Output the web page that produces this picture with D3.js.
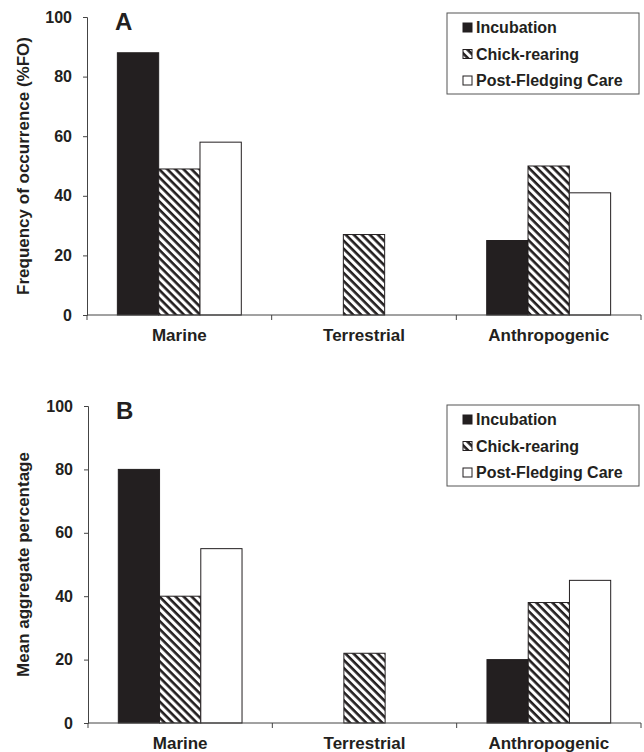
<!DOCTYPE html>
<html>
<head>
<meta charset="utf-8">
<script src="https://cdn.jsdelivr.net/npm/d3@7"></script>
<style>
    body { margin: 0; background: #fff; }
    text { font-family: "Liberation Sans", Arial, sans-serif; font-weight: bold; fill: #231f20; }
</style>
</head>
<body>
<div id="chart"></div>
<script>
const categories = ["Marine", "Terrestrial", "Anthropogenic"];
const stages = ["Incubation", "Chick-rearing", "Post-Fledging Care"];
const yTicks = [0, 20, 40, 60, 80, 100];

// values per stage, in category order
const freqIncubation = [88, 0, 25];
const freqChick = [49, 27, 50];
const freqPost = [58, 0, 41];

const meanIncubation = [80, 0, 20];
const meanChick = [40, 22, 38];
const meanPost = [55, 0, 45];

const width = 644, height = 752;
const ink = "#231f20";

const svg = d3.select("#chart").append("svg")
    .attr("width", width)
    .attr("height", height);

// diagonal hatch for chick-rearing
svg.append("defs").append("pattern")
    .attr("id", "hatch")
    .attr("patternUnits", "userSpaceOnUse")
    .attr("width", 5.7)
    .attr("height", 5.7)
    .attr("patternTransform", "rotate(45)")
    .call(p => {
        p.append("rect").attr("width", 5.7).attr("height", 5.7).attr("fill", "#fff");
        p.append("rect").attr("width", 5.7).attr("height", 2.6).attr("fill", ink);
    });

const fills = ["#231f20", "url(#hatch)", "#fff"];

const panels = [
    { letter: "A", title: "Frequency of occurrence (%FO)", series: [freqIncubation, freqChick, freqPost],
      left: 87, right: 641, top: 17, bottom: 315, legendTop: 13 },
    { letter: "B", title: "Mean aggregate percentage", series: [meanIncubation, meanChick, meanPost],
      left: 88, right: 641, top: 406, bottom: 723, legendTop: 405 }
];

panels.forEach(panel => drawPanel(panel));

function drawPanel(panel) {
    const g = svg.append("g");

    const x = d3.scaleBand()
        .domain(categories)
        .range([panel.left, panel.right]);

    const xInner = d3.scaleBand()
        .domain(stages)
        .range([0, x.bandwidth()])
        .paddingOuter(0.735);

    const y = d3.scaleLinear()
        .domain([0, 100])
        .range([panel.bottom, panel.top]);

    // bars
    stages.forEach((stage, si) => {
        g.append("g")
            .selectAll("rect")
            .data(categories.map((c, ci) => ({ c, v: panel.series[si][ci] })).filter(d => d.v > 0))
            .join("rect")
                .attr("x", d => x(d.c) + xInner(stage))
                .attr("y", d => y(d.v))
                .attr("width", xInner.bandwidth())
                .attr("height", d => y(0) - y(d.v))
                .attr("fill", fills[si])
                .attr("stroke", ink)
                .attr("stroke-width", 1);
    });

    // y axis
    const yAxis = g.append("g")
        .attr("transform", `translate(${panel.left},0)`)
        .call(d3.axisLeft(y).tickValues(yTicks).tickSize(4).tickPadding(11));
    yAxis.select(".domain").attr("stroke", "#444");
    yAxis.selectAll(".tick line").attr("stroke", "#444");
    yAxis.selectAll(".tick text")
        .attr("font-size", 16)
        .attr("font-family", null)
        .attr("fill", ink);

    // x axis: ticks on category boundaries
    const edges = categories.map(c => x(c)).concat([x(categories[categories.length - 1]) + x.bandwidth()]);
    const xAxis = g.append("g")
        .attr("transform", `translate(0,${panel.bottom})`);
    xAxis.append("line")
        .attr("x1", panel.left)
        .attr("x2", panel.right)
        .attr("stroke", "#444");
    xAxis.selectAll(".edge")
        .data(edges)
        .join("line")
            .attr("class", "edge")
            .attr("x1", d => d)
            .attr("x2", d => d)
            .attr("y2", 5)
            .attr("stroke", "#444");
    xAxis.selectAll(".cat")
        .data(categories)
        .join("text")
            .attr("class", "cat")
            .attr("x", d => x(d) + x.bandwidth() / 2)
            .attr("y", 26)
            .attr("text-anchor", "middle")
            .attr("font-size", 17)
            .text(d => d);

    // y title
    g.append("text")
        .attr("transform", `translate(29,${(panel.top + panel.bottom) / 2}) rotate(-90)`)
        .attr("text-anchor", "middle")
        .attr("font-size", 17)
        .text(panel.title);

    // panel letter
    g.append("text")
        .attr("x", panel.left + 28)
        .attr("y", panel.top + 13)
        .attr("font-size", 24)
        .text(panel.letter);

    // legend
    const legend = g.append("g")
        .attr("transform", `translate(447,${panel.legendTop})`);
    legend.append("rect")
        .attr("width", 192)
        .attr("height", 81)
        .attr("fill", "#fff")
        .attr("stroke", "#555");
    const items = legend.selectAll(".item")
        .data(stages)
        .join("g")
            .attr("class", "item")
            .attr("transform", (d, i) => `translate(16,${20 + i * 26.5})`);
    items.append("rect")
        .attr("y", -10)
        .attr("width", 9)
        .attr("height", 9)
        .attr("fill", (d, i) => fills[i])
        .attr("stroke", ink);
    items.append("text")
        .attr("x", 13)
        .attr("font-size", 16)
        .text(d => d);
}
</script>
</body>
</html>
